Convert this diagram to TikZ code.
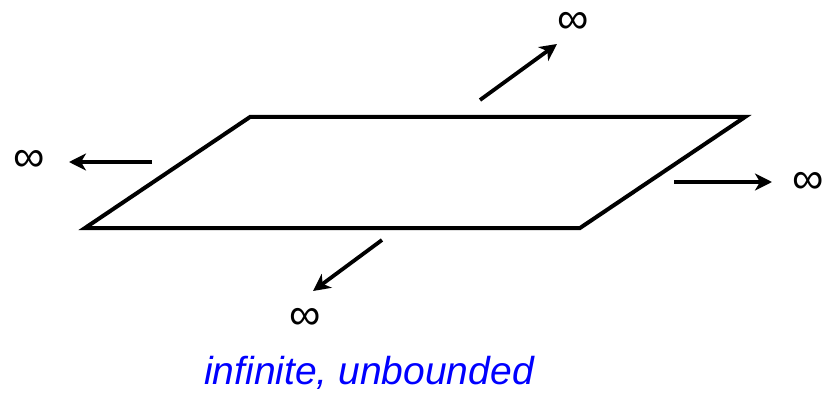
\documentclass[tikz,border=0pt]{standalone}
\usepackage{fontspec}
\setmainfont{Liberation Sans}
\usetikzlibrary{arrows.meta}
\begin{document}
\begin{tikzpicture}[x=1pt,y=-1pt,
  edge/.style={line width=4pt,line join=miter},
  arr/.style={line width=3.8pt,-{Stealth[length=17pt,width=17pt,inset=5pt]}},
  inf/.style={font=\fontsize{44}{44}\selectfont,inner sep=0pt},
  captxt/.style={font=\fontsize{39}{44}\selectfont\itshape,text=blue,inner sep=0pt,anchor=base}]
\useasboundingbox (0,0) rectangle (825,393);
\coordinate (tl) at (250,117);
\coordinate (tr) at (745,117);
\coordinate (br) at (580,228);
\coordinate (bl) at (85,228);
\draw[edge] (tl) -- (tr) -- (br) -- (bl) -- cycle;
\coordinate (a1s) at (480,100);
\coordinate (a1e) at (557,44);
\coordinate (a2s) at (152,162);
\coordinate (a2e) at (69,162);
\coordinate (a3s) at (674,182);
\coordinate (a3e) at (772,182);
\coordinate (a4s) at (382,240);
\coordinate (a4e) at (313,291);
\draw[arr] (a1s) -- (a1e);
\draw[arr] (a2s) -- (a2e);
\draw[arr] (a3s) -- (a3e);
\draw[arr] (a4s) -- (a4e);
\node[inf] (i1) at (573,23) {∞};
\node[inf] (i2) at (29,161) {∞};
\node[inf] (i3) at (808,183) {∞};
\node[inf] (i4) at (305,319) {∞};
\node[captxt] (c) at (369,384) {infinite, unbounded};
\end{tikzpicture}
\end{document}
